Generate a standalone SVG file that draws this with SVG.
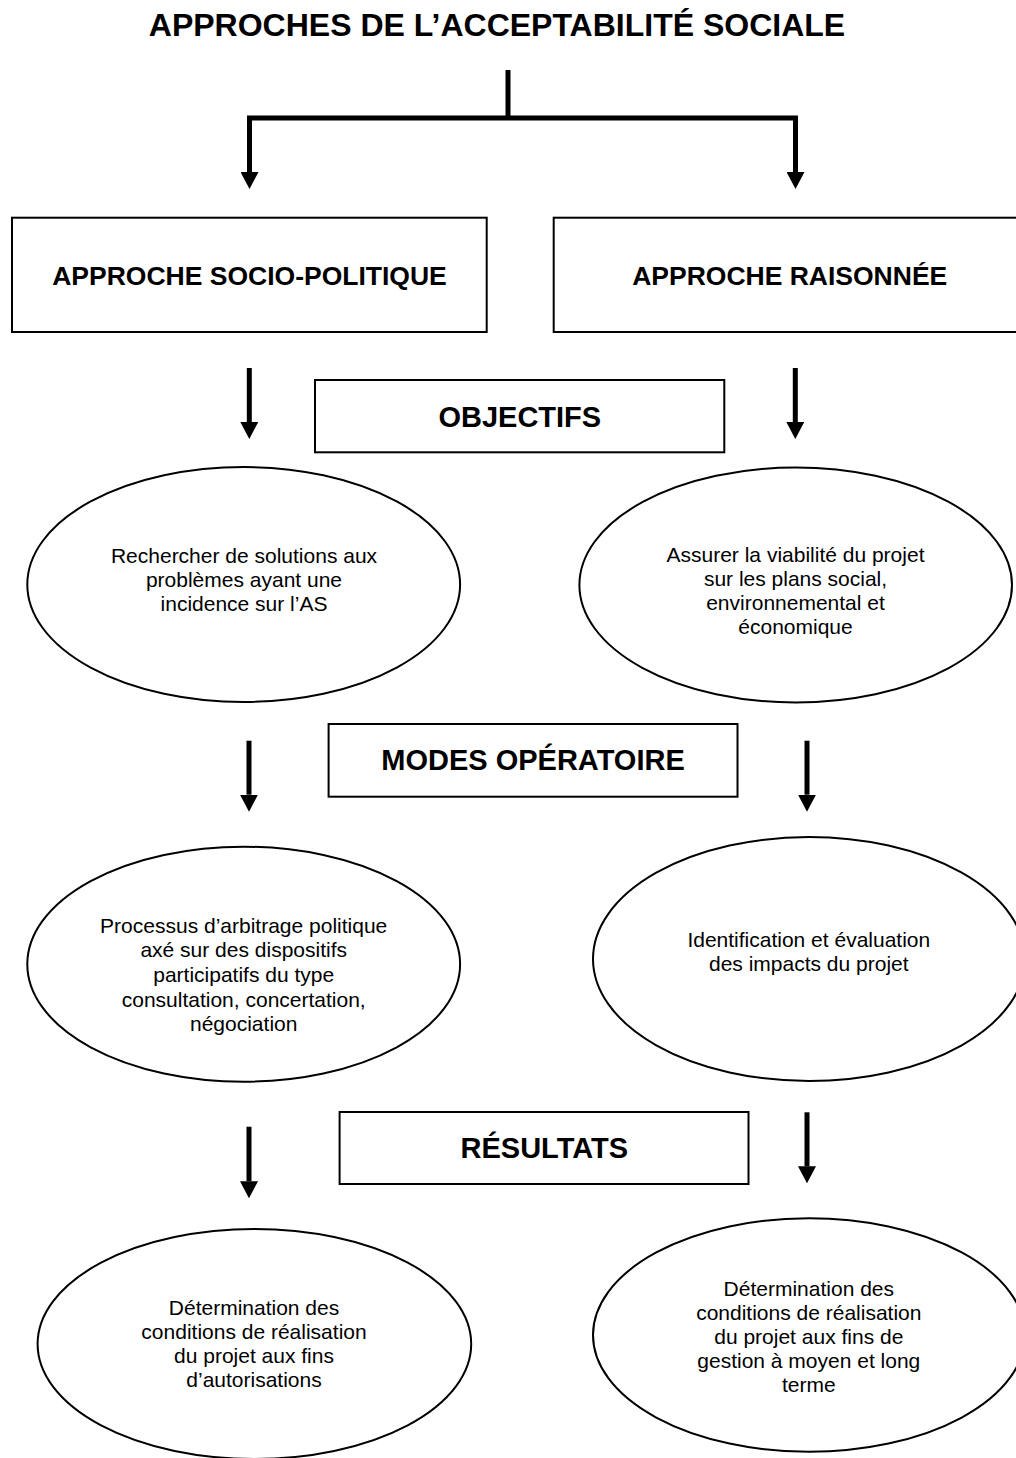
<svg xmlns="http://www.w3.org/2000/svg" width="1016" height="1458" viewBox="0 0 1016 1458">
  <style>
    .bg { fill: #ffffff; }
    .box { fill: #ffffff; stroke: #000000; stroke-width: 2; }
    .oval { fill: #ffffff; stroke: #000000; stroke-width: 2; }
    .wire { fill: none; stroke: #000000; stroke-width: 5; stroke-linecap: butt; }
    .title { font-family: "Liberation Sans", Arial, sans-serif; font-weight: bold; font-size: 32px; fill: #000; text-anchor: middle; }
    .head { font-family: "Liberation Sans", Arial, sans-serif; font-weight: bold; font-size: 26.5px; fill: #000; text-anchor: middle; }
    .step { font-family: "Liberation Sans", Arial, sans-serif; font-weight: bold; font-size: 29px; fill: #000; text-anchor: middle; }
    .body { font-family: "Liberation Sans", Arial, sans-serif; font-size: 21px; fill: #000; text-anchor: middle; }
  </style>
  <defs>
    <marker id="arrow" markerUnits="userSpaceOnUse" markerWidth="17" markerHeight="18" viewBox="0 0 17 18" refX="0" refY="9" orient="auto">
      <path d="M0,0 L17,9 L0,18 Z" fill="#000000"/>
    </marker>
  </defs>

  <rect class="bg" x="0" y="0" width="1016" height="1458"/>

  <g id="title">
    <text class="title" x="497" y="35.5">APPROCHES DE L’ACCEPTABILITÉ SOCIALE</text>
  </g>

  <!-- connectors -->
  <g id="connectors">
    <path class="wire" d="M508,70 V118"/>
    <path class="wire" d="M247,118 H798"/>
    <path class="wire" d="M249.5,118 V172" marker-end="url(#arrow)"/>
    <path class="wire" d="M795.5,118 V172" marker-end="url(#arrow)"/>

    <path class="wire" d="M249.3,368 V422" marker-end="url(#arrow)"/>
    <path class="wire" d="M795.3,368 V422" marker-end="url(#arrow)"/>

    <path class="wire" d="M249,740.7 V794.7" marker-end="url(#arrow)"/>
    <path class="wire" d="M807,740.7 V794.7" marker-end="url(#arrow)"/>

    <path class="wire" d="M249,1126.7 V1181.3" marker-end="url(#arrow)"/>
    <path class="wire" d="M807,1112.3 V1166.3" marker-end="url(#arrow)"/>
  </g>

  <g id="socio-politique">
    <rect class="box" x="12" y="217.7" width="474.7" height="114.3"/>
    <text class="head" x="249.5" y="285">APPROCHE SOCIO-POLITIQUE</text>
  </g>

  <g id="raisonnee">
    <rect class="box" x="553.7" y="217.7" width="470" height="114.3"/>
    <text class="head" x="789.7" y="285">APPROCHE RAISONNÉE</text>
  </g>

  <g id="objectifs">
    <rect class="box" x="315" y="380" width="409.3" height="72.3"/>
    <text class="step" x="519.8" y="427.3">OBJECTIFS</text>
  </g>

  <g id="objectif-socio">
    <ellipse class="oval" cx="243.7" cy="584.5" rx="216.4" ry="117.5"/>
    <text class="body" x="244" y="562.7">Rechercher de solutions aux</text>
    <text class="body" x="244" y="586.7">problèmes ayant une</text>
    <text class="body" x="244" y="610.7">incidence sur l’AS</text>
  </g>

  <g id="objectif-raisonne">
    <ellipse class="oval" cx="795.7" cy="585" rx="216.3" ry="117.5"/>
    <text class="body" x="795.5" y="562">Assurer la viabilité du projet</text>
    <text class="body" x="795.5" y="586">sur les plans social,</text>
    <text class="body" x="795.5" y="610">environnemental et</text>
    <text class="body" x="795.5" y="634">économique</text>
  </g>

  <g id="modes">
    <rect class="box" x="328.6" y="724" width="408.9" height="72.7"/>
    <text class="step" x="533" y="770">MODES OPÉRATOIRE</text>
  </g>

  <g id="mode-socio">
    <ellipse class="oval" cx="243.7" cy="964.2" rx="216.4" ry="117.5"/>
    <text class="body" x="243.7" y="933">Processus d’arbitrage politique</text>
    <text class="body" x="243.7" y="957">axé sur des dispositifs</text>
    <text class="body" x="243.7" y="981.5">participatifs du type</text>
    <text class="body" x="243.7" y="1006.5">consultation, concertation,</text>
    <text class="body" x="243.7" y="1030.5">négociation</text>
  </g>

  <g id="mode-raisonne">
    <ellipse class="oval" cx="809" cy="959" rx="216" ry="122"/>
    <text class="body" x="808.8" y="946.7">Identification et évaluation</text>
    <text class="body" x="808.8" y="970.7">des impacts du projet</text>
  </g>

  <g id="resultats">
    <rect class="box" x="339.6" y="1112" width="408.9" height="72"/>
    <text class="step" x="544.3" y="1158.3">RÉSULTATS</text>
  </g>

  <g id="resultat-socio">
    <ellipse class="oval" cx="254.4" cy="1344" rx="216.8" ry="115"/>
    <text class="body" x="254" y="1315">Détermination des</text>
    <text class="body" x="254" y="1339">conditions de réalisation</text>
    <text class="body" x="254" y="1363">du projet aux fins</text>
    <text class="body" x="254" y="1387">d’autorisations</text>
  </g>

  <g id="resultat-raisonne">
    <ellipse class="oval" cx="809" cy="1335" rx="216" ry="116.7"/>
    <text class="body" x="808.8" y="1296">Détermination des</text>
    <text class="body" x="808.8" y="1320">conditions de réalisation</text>
    <text class="body" x="808.8" y="1344">du projet aux fins de</text>
    <text class="body" x="808.8" y="1368">gestion à moyen et long</text>
    <text class="body" x="808.8" y="1392">terme</text>
  </g>
</svg>
